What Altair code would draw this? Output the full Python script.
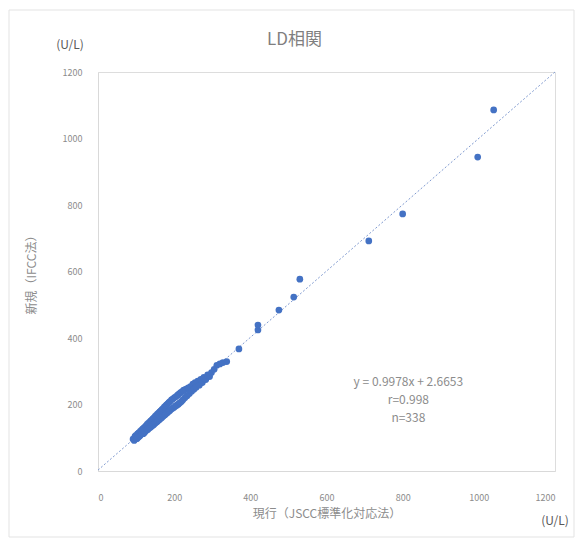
import altair as alt
import pandas as pd

# measured values (x: 現行 JSCC, y: 新規 IFCC)
x_vals = [92, 95, 97, 99, 100, 102, 104, 105, 107, 108, 110, 111, 113, 114, 116, 117, 119, 120, 122, 123,
          125, 126, 128, 129, 131, 132, 134, 135, 137, 138, 140, 141, 143, 144, 146, 147, 149, 150, 152, 153,
          155, 156, 158, 159, 161, 162, 164, 165, 167, 168, 170, 171, 173, 174, 176, 177, 179, 180, 182, 183,
          185, 186, 188, 189, 191, 193, 195, 197, 199, 201, 203, 205, 207, 209, 211, 213, 215, 217, 219, 221,
          223, 225, 228, 231, 234, 237, 240, 243, 246, 249, 252, 255, 258, 262, 266, 270, 274, 278, 283, 288,
          293, 298, 305, 312, 320, 328, 338,
          370, 420, 420, 475, 514, 530, 711, 800, 997, 1039]
y_vals = [96, 92, 104, 98, 107, 97, 112, 101, 115, 104, 106, 119, 110, 122, 113, 126, 112, 129, 116, 132,
          120, 136, 123, 140, 125, 143, 129, 146, 131, 150, 134, 153, 137, 157, 139, 160, 143, 164, 146, 167,
          148, 171, 152, 174, 154, 178, 158, 181, 160, 185, 164, 188, 167, 192, 169, 195, 173, 199, 175, 202,
          179, 206, 181, 209, 185, 214, 188, 217, 191, 221, 195, 224, 198, 228, 201, 232, 205, 236, 209, 239,
          214, 243, 220, 246, 226, 250, 233, 254, 240, 261, 246, 266, 252, 270, 258, 276, 266, 282, 275, 289,
          284, 296, 306, 318, 322, 326, 329,
          367, 424, 439, 484, 523, 577, 692, 773, 944, 1086]

trend_x = [0, 1200]
trend_y = [2.67, 1200.0]

ticks = [0, 200, 400, 600, 800, 1000, 1200]
eq_lines = ["y = 0.9978x + 2.6653", "r=0.998", "n=338"]
eq_x = [815, 815, 815]
eq_y = [268, 214, 160]

FONT = "Noto Sans CJK JP"
GRAY = "#8c8c8c"
W, H = 457, 399

pts = pd.DataFrame({"x": x_vals, "y": y_vals})
trend = pd.DataFrame({"x": trend_x, "y": trend_y})
eq = pd.DataFrame({"t": eq_lines, "x": eq_x, "y": eq_y})

xs = alt.Scale(domain=[0, 1200], nice=False)
ys = alt.Scale(domain=[0, 1200], nice=False)

xaxis = alt.Axis(values=ticks, format="d", title="現行（JSCC標準化対応法）", grid=False, ticks=False,
                 domainColor="#d9d9d9", labelColor=GRAY, labelFontSize=9, labelPadding=22,
                 titleColor=GRAY, titleFontSize=12, titleFontWeight="normal", titlePadding=6,
                 labelFont=FONT, titleFont=FONT)
yaxis = alt.Axis(values=ticks, format="d", title="新規（IFCC法）", grid=False, ticks=False,
                 domainColor="#d9d9d9", labelColor=GRAY, labelFontSize=9, labelPadding=16,
                 titleColor=GRAY, titleFontSize=12, titleFontWeight="normal", titlePadding=24,
                 labelFont=FONT, titleFont=FONT)

frame = alt.Chart(pd.DataFrame({"a": [0]})).mark_rect(
    fillOpacity=0, stroke="#e3e3e3", strokeWidth=1
).encode(x=alt.value(-89), x2=alt.value(W + 19), y=alt.value(-62), y2=alt.value(H + 66))

line = alt.Chart(trend).mark_line(color="#7f9ad0", strokeWidth=1, strokeDash=[2, 2]).encode(
    x=alt.X("x:Q", scale=xs, axis=xaxis), y=alt.Y("y:Q", scale=ys, axis=yaxis)
)

points = alt.Chart(pts).mark_circle(size=45, color="#4472C4", opacity=1).encode(
    x=alt.X("x:Q", scale=xs), y=alt.Y("y:Q", scale=ys)
)

eqtext = alt.Chart(eq).mark_text(font=FONT, fontSize=12, color=GRAY, align="center", baseline="middle").encode(
    x=alt.X("x:Q", scale=xs), y=alt.Y("y:Q", scale=ys), text="t:N"
)

unit_df = pd.DataFrame({"t": ["(U/L)"]})
unit_top = alt.Chart(unit_df).mark_text(font=FONT, fontSize=12, color="#595959", align="center", baseline="middle").encode(
    x=alt.value(-28), y=alt.value(-27), text="t:N"
)
unit_bot = alt.Chart(unit_df).mark_text(font=FONT, fontSize=12, color="#595959", align="center", baseline="middle").encode(
    x=alt.value(W), y=alt.value(H + 50), text="t:N"
)

title_df = pd.DataFrame({"t": ["LD相関"]})
title_txt = alt.Chart(title_df).mark_text(font=FONT, fontSize=17, color="#7f7f7f", align="center", baseline="middle").encode(
    x=alt.value(W / 2 - 32), y=alt.value(-32), text="t:N"
)

chart = alt.layer(frame, line, points, eqtext, unit_top, unit_bot, title_txt).properties(
    width=W, height=H,
    autosize=alt.AutoSizeParams(type="none"),
    padding={"left": 90, "top": 64, "right": 20, "bottom": 68},
).configure_view(stroke=None).configure(background="white")

chart.save("out.html", embed_options={"renderer": "svg", "actions": False})
